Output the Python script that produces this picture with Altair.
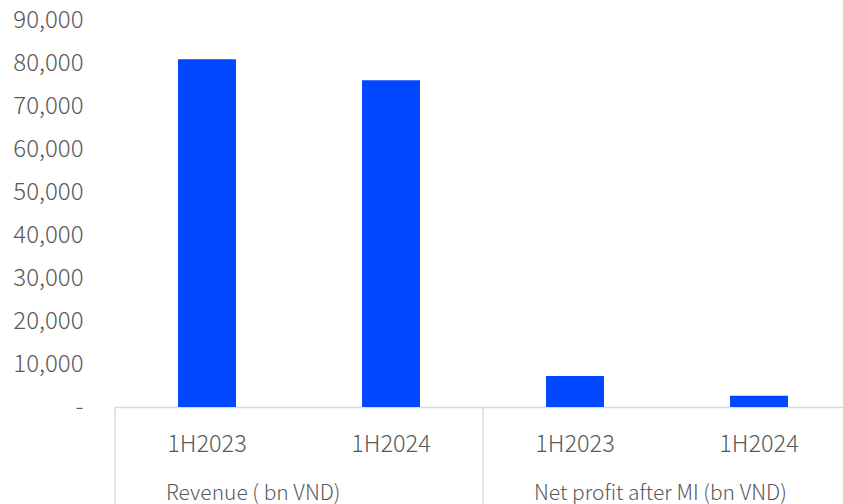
import altair as alt
import pandas as pd

# Half-year results, grouped by metric
groups = ["Revenue ( bn VND)", "Revenue ( bn VND)",
          "Net profit after MI (bn VND)", "Net profit after MI (bn VND)"]
periods = ["1H2023", "1H2024", "1H2023", "1H2024"]
values = [80900, 76000, 7200, 2600]
y_ticks = [0, 10000, 20000, 30000, 40000, 50000, 60000, 70000, 80000, 90000]

# Group boundaries and label anchors on a slot index (one slot per bar)
group_names = ["Revenue ( bn VND)", "Net profit after MI (bn VND)"]
group_first_slot = [0.5, 2.5]
boundaries = [0, 2, 4]

FONT = "Noto Sans CJK KR"
TEXT = "#595959"
LINE = "#D9D9D9"
BLUE = "#0047FF"

keys = [f"{g}|{p}" for g, p in zip(groups, periods)]
bars_df = pd.DataFrame({"key": keys, "group": groups, "period": periods, "value": values})
sep_df = pd.DataFrame({"pos": boundaries})
glab_df = pd.DataFrame({"group": group_names, "pos": group_first_slot})

PLOT_H = 387
RANGE_W = 736

y_scale = alt.Scale(domain=[0, 90000])

bars = alt.Chart(bars_df).mark_bar(color=BLUE).encode(
    x=alt.X(
        "key:N",
        sort=keys,
        scale=alt.Scale(range=[0, RANGE_W], paddingInner=0.685, paddingOuter=0.3425),
        axis=alt.Axis(
            title=None,
            labelExpr="split(datum.label, '|')[1]",
            labelAngle=0,
            labelFont=FONT,
            labelFontSize=23.5,
            labelFontWeight=300,
            labelColor=TEXT,
            labelPadding=25,
            ticks=False,
            domainColor=LINE,
            domainWidth=1.5,
        ),
    ),
    y=alt.Y(
        "value:Q",
        scale=y_scale,
        axis=alt.Axis(
            title=None,
            values=y_ticks,
            labelExpr="datum.value == 0 ? '-\u00a0\u00a0' : format(datum.value, ',')",
            labelFont=FONT,
            labelFontSize=24,
            labelFontWeight=300,
            labelColor=TEXT,
            labelPadding=32,
            ticks=False,
            domain=False,
            grid=False,
        ),
    ),
)

slot_scale = alt.Scale(domain=[0, 4], range=[0, RANGE_W])

separators = alt.Chart(sep_df).mark_rule(color=LINE, strokeWidth=1.5).encode(
    x=alt.X("pos:Q", scale=slot_scale, axis=None),
    y=alt.value(PLOT_H),
    y2=alt.value(PLOT_H + 100),
)

group_labels = alt.Chart(glab_df).mark_text(
    align="left", baseline="alphabetic", dx=-41,
    font=FONT, fontSize=21, fontWeight=300, color=TEXT,
).encode(
    x=alt.X("pos:Q", scale=slot_scale, axis=None),
    y=alt.value(PLOT_H + 93),
    text="group:N",
)

chart = alt.layer(bars, separators, group_labels).resolve_scale(
    x="independent"
).properties(
    width=728,
    height=PLOT_H,
    background="white",
    autosize=alt.AutoSizeParams(type="none"),
    padding={"left": 115, "top": 20, "right": 0, "bottom": 97},
).configure_view(
    strokeWidth=0
)

chart.save("out.html", embed_options={"renderer": "svg", "actions": False})
